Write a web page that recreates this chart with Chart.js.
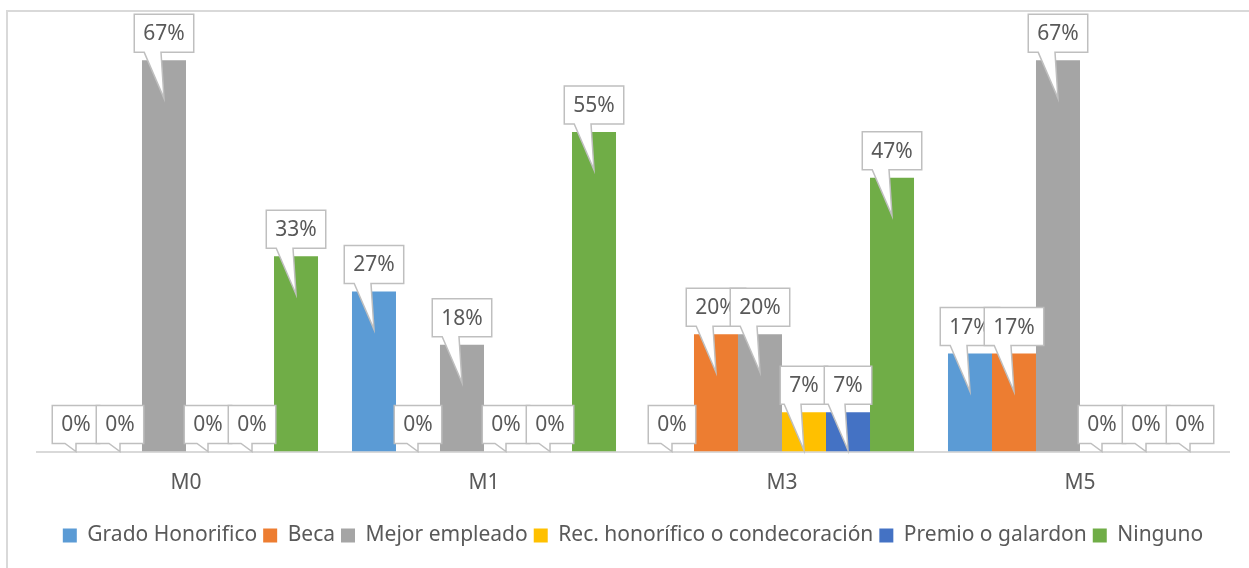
<!DOCTYPE html>
<html>
<head>
<meta charset="utf-8">
<script src="https://cdn.jsdelivr.net/npm/chart.js@4.4.1/dist/chart.umd.min.js"></script>
<style>
  html, body { margin: 0; padding: 0; background: #fff; overflow: hidden; }
  #wrap { position: relative; width: 1249px; height: 568px; }
  #frame { position: absolute; left: 6px; top: 10px; width: 1300px; height: 600px;
           border: 2px solid #d9d9d9; box-sizing: border-box; }
  canvas { position: absolute; left: 0; top: 0; }
</style>
</head>
<body>
<div id="wrap">
  <div id="frame"></div>
  <canvas id="chart" width="1249" height="568"></canvas>
</div>
<script>
// categories and series (percent)
const categories = ['M0', 'M1', 'M3', 'M5'];
const gradoHonorifico = [0, 27.3, 0, 16.7];
const beca = [0, 0, 20, 16.7];
const mejorEmpleado = [66.7, 18.2, 20, 66.7];
const recHonorifico = [0, 0, 6.7, 0];
const premioGalardon = [0, 0, 6.7, 0];
const ninguno = [33.3, 54.5, 46.7, 0];

const seriesNames = ['Grado Honorifico', 'Beca', 'Mejor empleado',
  'Rec. honorífico o condecoración', 'Premio o galardon', 'Ninguno'];
const seriesColors = ['#5b9bd5', '#ed7d31', '#a5a5a5', '#ffc000', '#4472c4', '#70ad47'];
const seriesData = [gradoHonorifico, beca, mejorEmpleado, recHonorifico, premioGalardon, ninguno];

const FONT = '"Noto Sans", sans-serif';
const TEXT = '#595959';

// callout boxes for the data labels
const calloutLabels = {
  id: 'calloutLabels',
  afterDatasetsDraw(chart) {
    const ctx = chart.ctx;
    ctx.save();
    ctx.font = '21px ' + FONT;
    ctx.textAlign = 'center';
    ctx.textBaseline = 'middle';
    chart.data.datasets.forEach((ds, i) => {
      const meta = chart.getDatasetMeta(i);
      meta.data.forEach((bar, j) => {
        const txt = Math.round(ds.data[j]) + '%';
        const cx = bar.x;
        const top = bar.y;
        const base = bar.base;
        const w = ctx.measureText(txt).width + 18;
        const h = 38;
        const bottom = top - 8;
        const tipY = Math.min(top + 38, base);
        const depth = tipY - bottom;
        const l = cx - w / 2, r = cx + w / 2, t = bottom - h;
        const pl = cx - Math.max(11, depth * 0.43);
        const pr = depth > 20 ? cx - 3 : cx;
        ctx.beginPath();
        ctx.moveTo(l, t);
        ctx.lineTo(r, t);
        ctx.lineTo(r, bottom);
        ctx.lineTo(pr, bottom);
        ctx.lineTo(cx, tipY);
        ctx.lineTo(pl, bottom);
        ctx.lineTo(l, bottom);
        ctx.closePath();
        ctx.fillStyle = '#ffffff';
        ctx.fill();
        ctx.lineWidth = 1.5;
        ctx.strokeStyle = '#bfbfbf';
        ctx.stroke();
        ctx.fillStyle = TEXT;
        ctx.fillText(txt, cx, t + h / 2 + 1);
      });
    });
    ctx.restore();
  }
};

new Chart(document.getElementById('chart'), {
  type: 'bar',
  data: {
    labels: categories,
    datasets: seriesData.map((d, i) => ({
      label: seriesNames[i],
      data: d,
      backgroundColor: seriesColors[i],
      borderWidth: 0,
      categoryPercentage: 0.886,
      barPercentage: 1
    }))
  },
  options: {
    responsive: false,
    animation: false,
    layout: { padding: { left: 37, right: 20, top: 41, bottom: 12 } },
    plugins: {
      tooltip: { enabled: false },
      legend: {
        position: 'bottom',
        labels: {
          font: { family: FONT, size: 21 },
          color: TEXT,
          boxWidth: 14,
          boxHeight: 14,
          padding: 6
        }
      }
    },
    scales: {
      x: {
        grid: { display: false, drawTicks: false },
        border: { display: true, color: '#d9d9d9', width: 2 },
        ticks: { font: { family: FONT, size: 21 }, color: TEXT, padding: 19 },
        afterFit(scale) { scale.height = 67.5; }
      },
      y: {
        display: false,
        min: 0,
        max: 70
      }
    }
  },
  plugins: [calloutLabels]
});
</script>
</body>
</html>
